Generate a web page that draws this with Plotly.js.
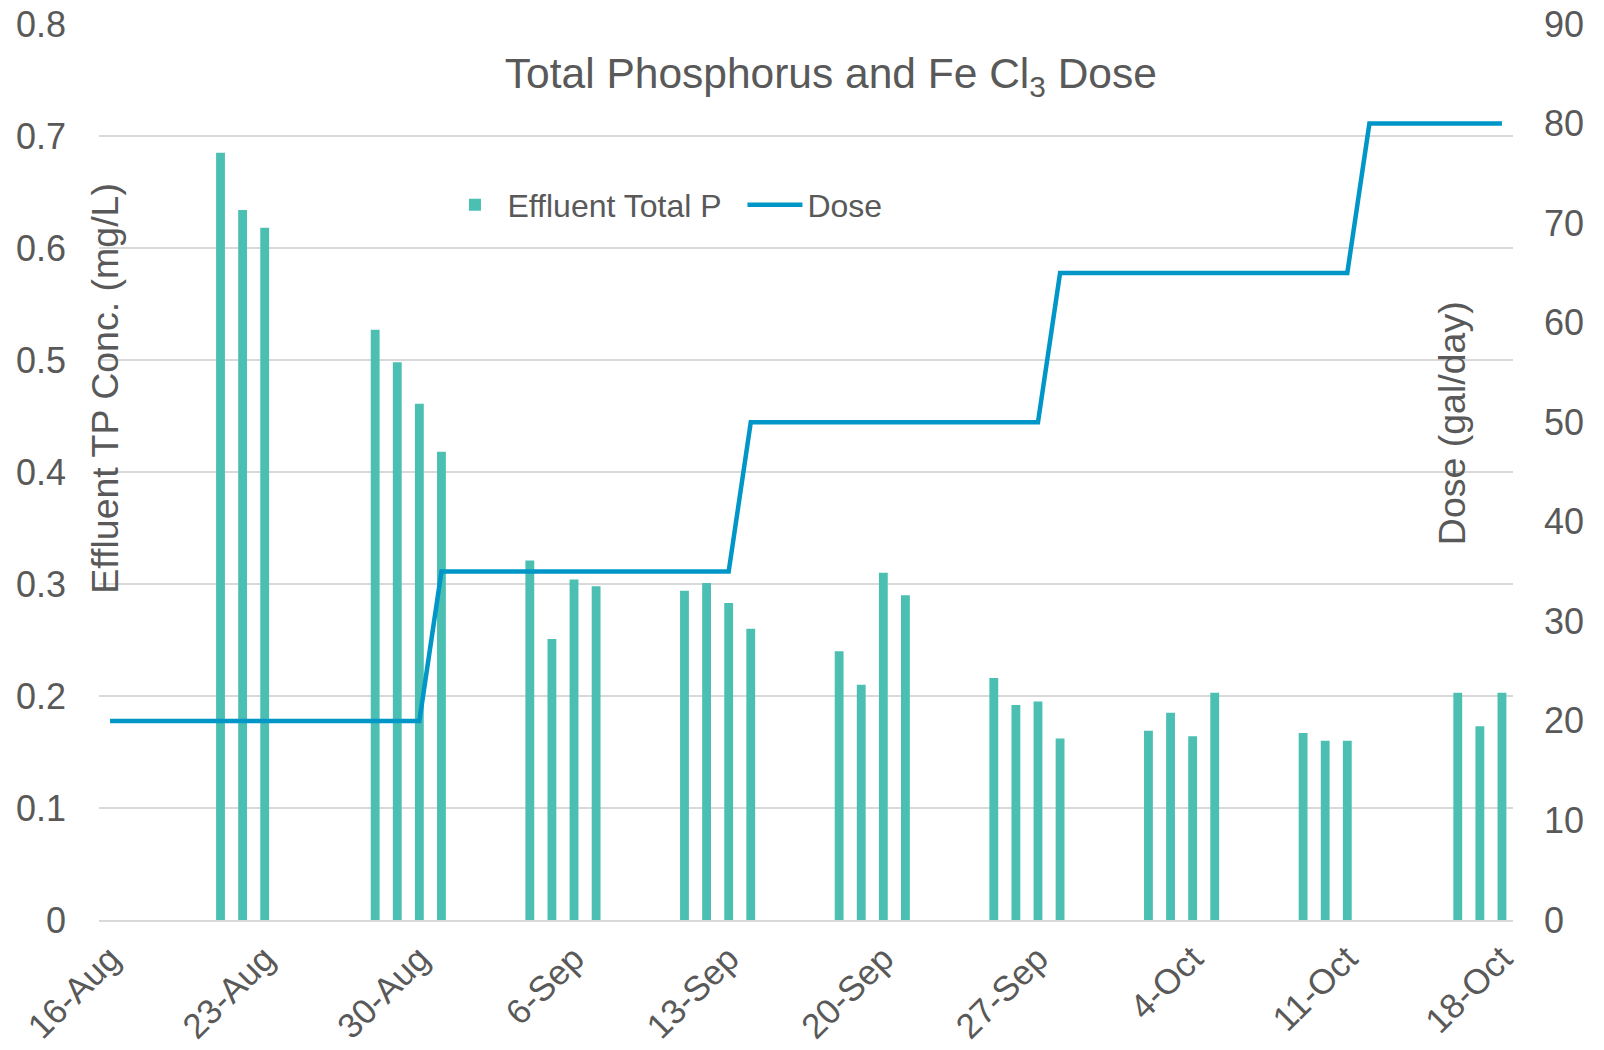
<!DOCTYPE html>
<html>
<head>
<meta charset="utf-8">
<script src="https://cdn.plot.ly/plotly-3.0.1.min.js"></script>
<style>
  html, body { margin: 0; padding: 0; background: #fff; }
  #chart { width: 1604px; height: 1050px; }
</style>
</head>
<body>
<div id="chart"></div>
<script>
// Effluent total phosphorus samples (mg/L)
const tpDates = [
    "2021-08-21", "2021-08-22", "2021-08-23",
    "2021-08-28", "2021-08-29", "2021-08-30", "2021-08-31",
    "2021-09-04", "2021-09-05", "2021-09-06", "2021-09-07",
    "2021-09-11", "2021-09-12", "2021-09-13", "2021-09-14",
    "2021-09-18", "2021-09-19", "2021-09-20", "2021-09-21",
    "2021-09-25", "2021-09-26", "2021-09-27", "2021-09-28",
    "2021-10-02", "2021-10-03", "2021-10-04", "2021-10-05",
    "2021-10-09", "2021-10-10", "2021-10-11",
    "2021-10-16", "2021-10-17", "2021-10-18"
];
const tpValues = [
    0.685, 0.634, 0.618,
    0.527, 0.498, 0.461, 0.418,
    0.321, 0.251, 0.304, 0.298,
    0.294, 0.301, 0.283, 0.260,
    0.240, 0.210, 0.310, 0.290,
    0.216, 0.192, 0.195, 0.162,
    0.169, 0.185, 0.164, 0.203,
    0.167, 0.160, 0.160,
    0.203, 0.173, 0.203
];

// FeCl3 dose (gal/day), points where the dose changes
const doseDates = [
    "2021-08-16", "2021-08-30", "2021-08-31", "2021-09-13", "2021-09-14",
    "2021-09-27", "2021-09-28", "2021-10-11", "2021-10-12", "2021-10-18"
];
const doseValues = [20, 20, 35, 35, 50, 50, 65, 65, 80, 80];

// x axis ticks
const tickDates = [
    "2021-08-16", "2021-08-23", "2021-08-30", "2021-09-06", "2021-09-13",
    "2021-09-20", "2021-09-27", "2021-10-04", "2021-10-11", "2021-10-18"
];
const tickLabels = [
    "16-Aug", "23-Aug", "30-Aug", "6-Sep", "13-Sep",
    "20-Sep", "27-Sep", "4-Oct", "11-Oct", "18-Oct"
];

const textColor = "#595959";
const gridColor = "#d9d9d9";
const fontFamily = "'Liberation Sans', Arial, sans-serif";

const data = [
    {
        x: tpDates,
        y: tpValues,
        type: "bar",
        name: "Effluent Total P",
        marker: {color: "rgb(74,191,178)"},
        yaxis: "y"
    },
    {
        x: doseDates,
        y: doseValues,
        type: "scatter",
        mode: "lines",
        name: "Dose",
        line: {color: "rgb(0,150,199)", width: 4.5},
        yaxis: "y2"
    }
];

const layout = {
    width: 1604,
    height: 1050,
    margin: {l: 99, r: 91, t: 24, b: 130},
    paper_bgcolor: "#fff",
    plot_bgcolor: "#fff",
    font: {family: fontFamily, color: textColor, size: 36},
    bargap: 0.6,
    title: {
        text: "Total Phosphorus and Fe Cl<sub>3</sub> Dose",
        font: {size: 42.5, color: textColor},
        xref: "container",
        x: 0.518,
        xanchor: "center",
        yref: "container",
        y: 0.930,
        yanchor: "middle"
    },
    xaxis: {
        type: "date",
        range: ["2021-08-15 12:00", "2021-10-18 12:00"],
        tickvals: tickDates,
        ticktext: tickLabels,
        tickangle: -45,
        tickfont: {size: 35},
        ticklabelstandoff: 2,
        showgrid: false,
        showline: true,
        linecolor: gridColor,
        linewidth: 2,
        ticks: "",
        zeroline: false
    },
    yaxis: {
        range: [0, 0.8],
        dtick: 0.1,
        tick0: 0,
        showgrid: true,
        gridcolor: gridColor,
        gridwidth: 1.5,
        zeroline: false,
        ticks: "",
        ticklabelstandoff: 32,
        tickfont: {size: 36}
    },
    yaxis2: {
        range: [0, 90],
        dtick: 10,
        tick0: 0,
        overlaying: "y",
        side: "right",
        showgrid: false,
        zeroline: false,
        ticks: "",
        ticklabelstandoff: 30,
        tickfont: {size: 36}
    },
    showlegend: true,
    legend: {
        orientation: "h",
        x: 0.2429,
        xanchor: "left",
        y: 0.798,
        yanchor: "middle",
        itemwidth: 55,
        entrywidth: 230,
        font: {size: 32},
        bgcolor: "rgba(0,0,0,0)"
    },
    annotations: [
        {
            text: "Effluent TP Conc. (mg/L)",
            textangle: -90,
            xref: "paper", yref: "paper",
            x: 0.0042, y: 0.594,
            xanchor: "center", yanchor: "middle",
            showarrow: false,
            font: {size: 37.5, color: textColor}
        },
        {
            text: "Dose (gal/day)",
            textangle: -90,
            xref: "paper", yref: "paper",
            x: 0.957, y: 0.5547,
            xanchor: "center", yanchor: "middle",
            showarrow: false,
            font: {size: 37.5, color: textColor}
        }
    ]
};

const config = {
    displayModeBar: false,
    staticPlot: true
};

Plotly.newPlot("chart", data, layout, config);
</script>
</body>
</html>
